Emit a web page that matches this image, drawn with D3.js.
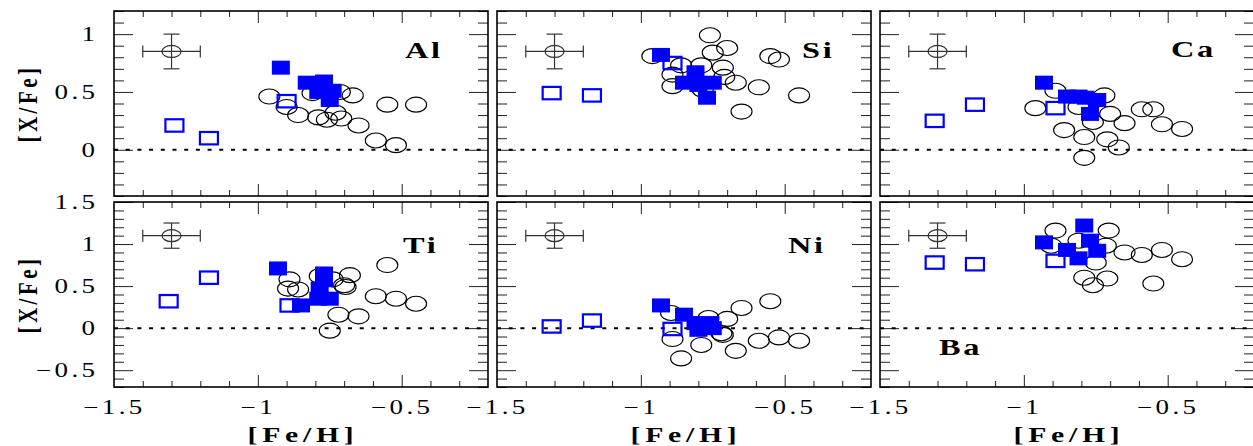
<!DOCTYPE html>
<html>
<head>
<meta charset="utf-8">
<script src="https://cdn.jsdelivr.net/npm/d3@7"></script>
<style>
    body { margin: 0; background: #fff; }
    svg { display: block; }
    text { font-family: 'Liberation Serif', 'DejaVu Serif', serif; fill: #000; }
</style>
</head>
<body>
<div id="chart"></div>
<script>
// [Fe/H], [X/Fe] pairs
const elements = ['Al', 'Si', 'Ca', 'Ti', 'Ni', 'Ba'];
const xDomain = [-1.5, -0.2];
const yDomainTop = [-0.4, 1.2];
const yDomainBottom = [-0.7, 1.5];
const xMajor = [-1.5, -1, -0.5];
const errCenterTop = [-1.3, 0.85];
const errCenterBottom = [-1.3, 1.1];
const errX = 0.1;
const errY = 0.15;

// open circles
const circlesAl = [[-0.96,0.46],[-0.90,0.37],[-0.86,0.30],[-0.81,0.49],[-0.79,0.28],[-0.76,0.26],[-0.73,0.32],[-0.71,0.27],[-0.715,0.50],[-0.67,0.47],[-0.65,0.21],[-0.59,0.08],[-0.55,0.39],[-0.52,0.04],[-0.45,0.39]];
const circlesSi = [[-0.96,0.81],[-0.76,0.99],[-0.75,0.84],[-0.70,0.88],[-0.86,0.73],[-0.89,0.65],[-0.89,0.55],[-0.79,0.73],[-0.715,0.71],[-0.71,0.63],[-0.67,0.58],[-0.59,0.54],[-0.55,0.81],[-0.52,0.78],[-0.45,0.47],[-0.65,0.33],[-0.785,0.52]];
const circlesCa = [[-0.89,0.51],[-0.96,0.36],[-0.81,0.37],[-0.72,0.47],[-0.70,0.31],[-0.76,0.24],[-0.86,0.17],[-0.79,0.11],[-0.71,0.09],[-0.67,0.02],[-0.79,-0.07],[-0.65,0.23],[-0.59,0.35],[-0.55,0.35],[-0.52,0.22],[-0.45,0.18]];
const circlesTi = [[-0.89,0.58],[-0.895,0.47],[-0.86,0.46],[-0.785,0.62],[-0.74,0.58],[-0.68,0.63],[-0.70,0.51],[-0.695,0.49],[-0.55,0.75],[-0.59,0.38],[-0.52,0.35],[-0.45,0.29],[-0.72,0.16],[-0.65,0.14],[-0.75,-0.03]];
const circlesNi = [[-0.895,0.18],[-0.765,0.12],[-0.70,0.11],[-0.65,0.24],[-0.55,0.32],[-0.89,-0.13],[-0.79,-0.20],[-0.715,-0.08],[-0.86,-0.36],[-0.67,-0.27],[-0.59,-0.15],[-0.52,-0.11],[-0.45,-0.15],[-0.80,0.05],[-0.72,-0.06]];
const circlesBa = [[-0.89,1.16],[-0.905,0.98],[-0.81,1.04],[-0.705,1.16],[-0.715,0.98],[-0.75,0.78],[-0.65,0.90],[-0.59,0.87],[-0.52,0.93],[-0.45,0.82],[-0.79,0.60],[-0.76,0.51],[-0.71,0.59],[-0.55,0.53]];

// open blue squares
const openAl = [[-1.29,0.21],[-1.17,0.10],[-0.90,0.42]];
const openSi = [[-1.31,0.49],[-1.17,0.47],[-0.89,0.75]];
const openCa = [[-1.31,0.25],[-1.17,0.39],[-0.89,0.36]];
const openTi = [[-1.31,0.32],[-1.17,0.60],[-0.89,0.27]];
const openNi = [[-1.31,0.02],[-1.17,0.09],[-0.89,-0.01]];
const openBa = [[-1.31,0.78],[-1.17,0.76],[-0.89,0.80]];

// filled blue squares
const filledAl = [[-0.92,0.71],[-0.83,0.58],[-0.77,0.59],[-0.79,0.50],[-0.74,0.51],[-0.75,0.43]];
const filledSi = [[-0.93,0.82],[-0.81,0.67],[-0.85,0.58],[-0.80,0.56],[-0.75,0.58],[-0.77,0.45]];
const filledCa = [[-0.93,0.58],[-0.85,0.46],[-0.81,0.46],[-0.785,0.45],[-0.745,0.43],[-0.77,0.31]];
const filledTi = [[-0.93,0.71],[-0.85,0.27],[-0.77,0.65],[-0.77,0.57],[-0.785,0.47],[-0.79,0.35],[-0.75,0.35]];
const filledNi = [[-0.93,0.27],[-0.85,0.16],[-0.81,0.06],[-0.76,0.06],[-0.80,-0.02],[-0.75,0.00]];
const filledBa = [[-0.93,1.02],[-0.79,1.22],[-0.77,1.04],[-0.85,0.93],[-0.81,0.83],[-0.745,0.92]];

const circlesAll = [circlesAl, circlesSi, circlesCa, circlesTi, circlesNi, circlesBa];
const openAll = [openAl, openSi, openCa, openTi, openNi, openBa];
const filledAll = [filledAl, filledSi, filledCa, filledTi, filledNi, filledBa];

const width = 1253, height = 446;
const colLeft = [114, 497, 880];
const rowTop = [11, 202];
const labelPos = [[291, 47], [305, 47], [291, 46], [289, 51], [291, 51], [59, 153]];
const stretch = 'scale(1.35,1)';

const isHalf = d => Math.abs(d * 2 - Math.round(d * 2)) < 1e-6;

class Panel {

    constructor(_config, _data) {
        this.config = {
            svg: _config.svg,
            left: _config.left,
            top: _config.top,
            width: 374,
            height: 185,
            yDomain: _config.yDomain,
            errCenter: _config.errCenter,
            showX: _config.showX,
            showY: _config.showY,
            label: _config.label,
            labelPos: _config.labelPos,
        }
        this.data = _data;
        this.initVis();
        this.renderVis();
    }

    initVis() {
        let vis = this;
        let c = vis.config;
        vis.xScale = d3.scaleLinear()
            .domain(xDomain)
            .range([c.left, c.left + c.width]);
        vis.yScale = d3.scaleLinear()
            .domain(c.yDomain)
            .range([c.top + c.height, c.top]);
        vis.g = c.svg.append('g');

        let xMinor = d3.range(xDomain[0] * 10 + 1, xDomain[1] * 10).map(d => d / 10)
            .filter(d => !isHalf(d));
        let yAll = d3.range(Math.round(c.yDomain[0] * 10), Math.round(c.yDomain[1] * 10) + 1).map(d => d / 10);
        let yMinor = yAll.filter(d => !isHalf(d));
        let yMajor = yAll.filter(d => isHalf(d));
        let xMaj = xMajor.filter(d => d > xDomain[0]);
        let yTop = c.top, yBot = c.top + c.height;
        let xL = c.left, xR = c.left + c.width;

        // ticks on four sides, pointing in
        const tickSets = [
            [d3.axisBottom(vis.xScale), xMinor, -6, `translate(0,${yBot})`],
            [d3.axisBottom(vis.xScale), xMaj, -12, `translate(0,${yBot})`],
            [d3.axisTop(vis.xScale), xMinor, -6, `translate(0,${yTop})`],
            [d3.axisTop(vis.xScale), xMaj, -12, `translate(0,${yTop})`],
            [d3.axisLeft(vis.yScale), yMinor, -10, `translate(${xL},0)`],
            [d3.axisLeft(vis.yScale), yMajor, -19, `translate(${xL},0)`],
            [d3.axisRight(vis.yScale), yMinor, -10, `translate(${xR},0)`],
            [d3.axisRight(vis.yScale), yMajor, -19, `translate(${xR},0)`],
        ];
        tickSets.forEach(t => {
            vis.g.append('g')
                .attr('transform', t[3])
                .call(t[0].tickValues(t[1]).tickSize(t[2]).tickFormat(''))
                .call(g => g.select('.domain').remove())
                .selectAll('line')
                .attr('stroke', '#222')
                .attr('stroke-width', 1);
        });

        vis.g.append('rect')
            .attr('x', xL)
            .attr('y', yTop)
            .attr('width', c.width)
            .attr('height', c.height)
            .attr('fill', 'none')
            .attr('stroke', '#000')
            .attr('stroke-width', 1.6);

        if (c.showX) {
            vis.g.append('g')
                .attr('transform', `translate(0,${yBot})`)
                .call(d3.axisBottom(vis.xScale).tickValues(xMajor).tickSize(0).tickPadding(13).tickFormat(d3.format('')))
                .call(g => g.select('.domain').remove())
                .selectAll('text')
                .attr('transform', stretch)
                .style('font-size', '20px')
                .style('letter-spacing', '2.5px');
        }
        if (c.showY) {
            vis.g.append('g')
                .attr('transform', `translate(${xL},0)`)
                .call(d3.axisLeft(vis.yScale).tickValues(yMajor).tickSize(0).tickPadding(11.5).tickFormat(d3.format('')))
                .call(g => g.select('.domain').remove())
                .selectAll('text')
                .attr('transform', stretch)
                .style('font-size', '20px')
                .style('letter-spacing', '2.5px');
        }
    }

    renderVis() {
        let vis = this;
        let c = vis.config;
        let x = vis.xScale, y = vis.yScale;

        // zero line
        vis.g.append('line')
            .attr('x1', x.range()[0])
            .attr('x2', x.range()[1])
            .attr('y1', y(0))
            .attr('y2', y(0))
            .attr('stroke', '#000')
            .attr('stroke-width', 2)
            .style('stroke-dasharray', '4,7.7');

        // error bar
        let e = c.errCenter;
        let eb = vis.g.append('g')
            .attr('stroke', '#333')
            .attr('stroke-width', 1.2)
            .attr('fill', 'none');
        eb.append('line')
            .attr('x1', x(e[0] - errX)).attr('x2', x(e[0] + errX))
            .attr('y1', y(e[1])).attr('y2', y(e[1]));
        eb.append('line')
            .attr('x1', x(e[0])).attr('x2', x(e[0]))
            .attr('y1', y(e[1] - errY)).attr('y2', y(e[1] + errY));
        [e[0] - errX, e[0] + errX].forEach(v => {
            eb.append('line')
                .attr('x1', x(v)).attr('x2', x(v))
                .attr('y1', y(e[1]) - 6).attr('y2', y(e[1]) + 6);
        });
        [e[1] - errY, e[1] + errY].forEach(v => {
            eb.append('line')
                .attr('x1', x(e[0]) - 8).attr('x2', x(e[0]) + 8)
                .attr('y1', y(v)).attr('y2', y(v));
        });
        eb.append('ellipse')
            .attr('cx', x(e[0]))
            .attr('cy', y(e[1]))
            .attr('rx', 9.5)
            .attr('ry', 6);

        vis.g.selectAll('.star')
            .data(vis.data.circles)
            .enter()
            .append('ellipse')
            .attr('class', 'star')
            .attr('cx', d => x(d[0]))
            .attr('cy', d => y(d[1]))
            .attr('rx', 10.5)
            .attr('ry', 7.5)
            .attr('fill', 'none')
            .attr('stroke', '#000')
            .attr('stroke-width', 1.1);

        vis.g.selectAll('.open-sq')
            .data(vis.data.open)
            .enter()
            .append('rect')
            .attr('class', 'open-sq')
            .attr('x', d => x(d[0]) - 9)
            .attr('y', d => y(d[1]) - 6.2)
            .attr('width', 18)
            .attr('height', 12.4)
            .attr('fill', 'none')
            .attr('stroke', '#0000ff')
            .attr('stroke-width', 2.2);

        vis.g.selectAll('.filled-sq')
            .data(vis.data.filled)
            .enter()
            .append('rect')
            .attr('class', 'filled-sq')
            .attr('x', d => x(d[0]) - 9)
            .attr('y', d => y(d[1]) - 7)
            .attr('width', 18)
            .attr('height', 14)
            .attr('fill', '#0000ff');

        vis.g.append('text')
            .attr('transform', `translate(${c.left + c.labelPos[0]},${c.top + c.labelPos[1]}) ${stretch}`)
            .text(c.label)
            .style('font-size', '24px')
            .style('font-weight', 'bold')
            .style('letter-spacing', '2px');
    }
}

const svg = d3.select('#chart')
    .append('svg')
    .attr('width', width)
    .attr('height', height);
svg.append('rect')
    .attr('width', width)
    .attr('height', height)
    .attr('fill', '#fff');

elements.forEach((el, i) => {
    let row = Math.floor(i / 3), col = i % 3;
    new Panel({
        svg: svg,
        left: colLeft[col],
        top: rowTop[row],
        yDomain: row == 0 ? yDomainTop : yDomainBottom,
        errCenter: row == 0 ? errCenterTop : errCenterBottom,
        showX: row == 1,
        showY: col == 0,
        label: el,
        labelPos: labelPos[i],
    }, {circles: circlesAll[i], open: openAll[i], filled: filledAll[i]});
});

// axis titles
rowTop.forEach(t => {
    svg.append('text')
        .attr('transform', `translate(27,${t + 92.5}) ${stretch} rotate(-90)`)
        .attr('text-anchor', 'middle')
        .attr('dominant-baseline', 'central')
        .text('[X/Fe]')
        .style('font-size', '21px')
        .style('font-weight', 'bold')
        .style('letter-spacing', '3.5px');
});
colLeft.forEach(l => {
    svg.append('text')
        .attr('transform', `translate(${l + 189},442) ${stretch}`)
        .attr('text-anchor', 'middle')
        .text('[Fe/H]')
        .style('font-size', '22px')
        .style('font-weight', 'bold')
        .style('letter-spacing', '3.5px');
});
</script>
</body>
</html>
